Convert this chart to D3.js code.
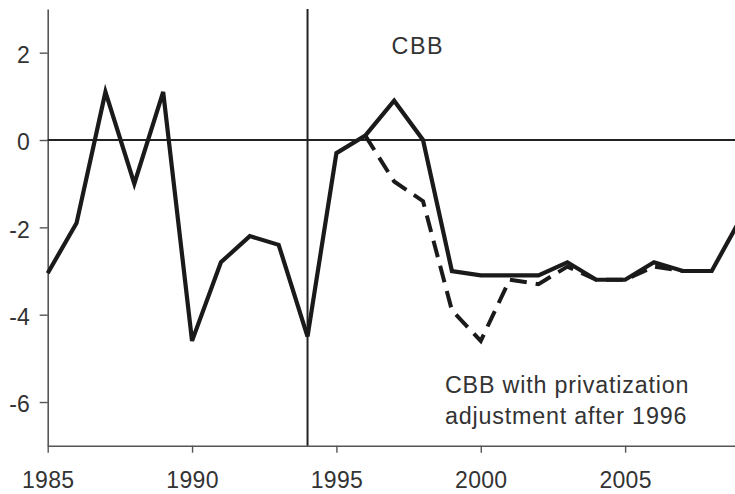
<!DOCTYPE html>
<html>
<head>
<meta charset="utf-8">
<script src="https://cdn.jsdelivr.net/npm/d3@7"></script>
<style>
  html, body { margin: 0; padding: 0; background: #fff; }
  svg { display: block; }
  text { font-family: "Liberation Sans", Arial, Helvetica, sans-serif; fill: #333; }
</style>
</head>
<body>
<svg id="chart" width="735" height="494"></svg>
<script>
// Central budget balance (% of GDP)
const years = d3.range(1985, 2010);
const cbb = [-3.05, -1.9, 1.1, -1.0, 1.1, -4.6, -2.8, -2.2, -2.4, -4.5,
             -0.3, 0.1, 0.9, 0.0, -3.0, -3.1, -3.1, -3.1, -2.8, -3.2,
             -3.2, -2.8, -3.0, -3.0, -1.8];
// Balance with privatization adjustment, from 1996 on
const adjYears = d3.range(1996, 2009);
const cbbAdjusted = [0.1, -0.95, -1.4, -3.9, -4.6, -3.2, -3.3, -2.9, -3.2,
                     -3.2, -2.9, -3.0, -3.0];
const xTicks = [1985, 1990, 1995, 2000, 2005];
const yTicks = [-6, -4, -2, 0, 2];
const breakYear = 1994;

const svg = d3.select("#chart");
const x = d3.scaleLinear().domain([1985, 2009]).range([47.7, 740.6]);
const y = d3.scaleLinear().domain([-7, 3]).range([445.7, 9]);

const axisColor = "#555";

// Bottom axis
const gx = svg.append("g")
  .attr("transform", `translate(0,${y(-7)})`)
  .call(d3.axisBottom(x).tickValues(xTicks).tickFormat(d3.format("d"))
    .tickSize(7).tickSizeOuter(0).tickPadding(19));
gx.select(".domain").attr("stroke", axisColor).attr("stroke-width", 1.6);
gx.selectAll(".tick line").attr("stroke", axisColor).attr("stroke-width", 1.4);
gx.selectAll(".tick text").attr("font-size", 23).attr("fill", "#333")
  .attr("letter-spacing", 0.3);

// Left axis
const gy = svg.append("g")
  .attr("transform", `translate(${x(1985)},0)`)
  .call(d3.axisLeft(y).tickValues(yTicks).tickFormat(d => String(d))
    .tickSize(8).tickSizeOuter(0).tickPadding(10));
gy.select(".domain").attr("stroke", axisColor).attr("stroke-width", 1.6);
gy.selectAll(".tick line").attr("stroke", axisColor).attr("stroke-width", 1.4);
gy.selectAll(".tick text").attr("font-size", 23).attr("fill", "#333").attr("dy", "0.42em");

// Zero line and structural break marker
svg.append("line")
  .attr("x1", x(1985)).attr("x2", 735)
  .attr("y1", y(0)).attr("y2", y(0))
  .attr("stroke", "#222").attr("stroke-width", 2);
svg.append("line")
  .attr("x1", x(breakYear)).attr("x2", x(breakYear))
  .attr("y1", y(3)).attr("y2", y(-7))
  .attr("stroke", "#222").attr("stroke-width", 2);

const line = d3.line().x(d => x(d[0])).y(d => y(d[1]));

// Adjusted series (dashed)
svg.append("path")
  .datum(adjYears.map((yr, i) => [yr, cbbAdjusted[i]]))
  .attr("d", line)
  .attr("fill", "none")
  .attr("stroke", "#1a1a1a")
  .attr("stroke-width", 4)
  .attr("stroke-dasharray", "17,9")
  .attr("stroke-linejoin", "miter");

// Headline series (solid)
svg.append("path")
  .datum(years.map((yr, i) => [yr, cbb[i]]))
  .attr("d", line)
  .attr("fill", "none")
  .attr("stroke", "#1a1a1a")
  .attr("stroke-width", 4.2)
  .attr("stroke-linejoin", "miter");

// Series labels
const labelStyle = sel => sel.attr("font-size", 23.3).attr("letter-spacing", 0.8);
svg.append("text").attr("x", 391.5).attr("y", 54)
  .call(labelStyle).attr("letter-spacing", 1.6).text("CBB");
svg.append("text").attr("x", 445).attr("y", 393)
  .call(labelStyle).text("CBB with privatization");
svg.append("text").attr("x", 445).attr("y", 424)
  .call(labelStyle).text("adjustment after 1996");
</script>
</body>
</html>
